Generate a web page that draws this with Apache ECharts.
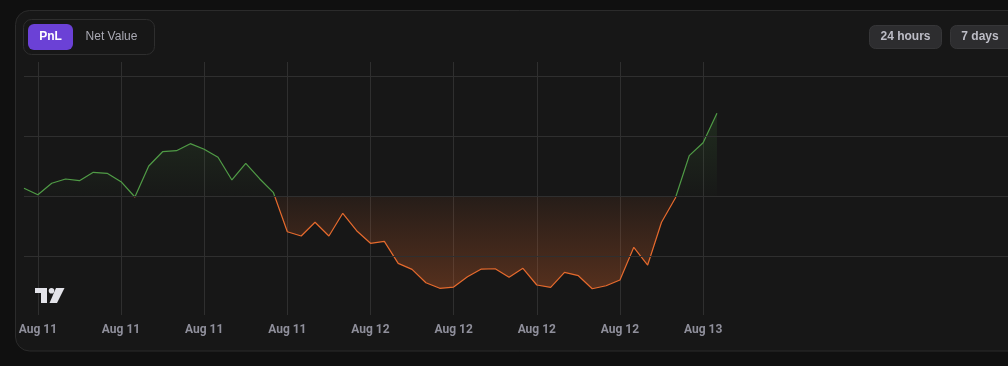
<!DOCTYPE html>
<html>
<head>
<meta charset="utf-8">
<script src="https://cdn.jsdelivr.net/npm/echarts@6/dist/echarts.min.js"></script>
<style>
  html, body { margin: 0; padding: 0; background: #101010; }
  #chart { width: 1008px; height: 366px; }
</style>
</head>
<body>
<div id="chart"></div>
<script>
// ---- data ----
const pnlValues = [12.8, 2.2, 21.2, 28.3, 25.5, 39.5, 37.8, 23.8, -1.7, 50.0,
  73.8, 75.5, 87.2, 77.8, 64.5, 26.7, 54.5, 28.8, 5.5, -59.5,
  -66.7, -43.8, -66.7, -28.8, -57.8, -78.8, -75.5, -112.2, -122.2, -144.5,
  -153.8, -151.7, -134.5, -121.7, -121.2, -135.3, -120.5, -148.3, -152.2, -127.2,
  -132.8, -154.5, -149.5, -140.0, -85.5, -115.0, -43.8, -3.3, 67.2, 88.8,
  137.8];
const totalSlots = 72;          // hourly slots visible on the time scale
const startDay = 10, startHour = 23;
const categories = [];
for (let i = 0; i < totalSlots; i++) {
  const h = startHour + i;
  const day = startDay + Math.floor(h / 24);
  const hh = String(h % 24).padStart(2, '0');
  categories.push('Aug ' + day + ' ' + hh + ':00');
}
const yGridLines = [200, 100, 0, -100];
const toggleLabels = ['PnL', 'Net Value'];
const rangeLabels = ['24 hours', '7 days'];

// ---- styles ----
const GREEN = '#4f9b45';
const ORANGE = '#e5692c';
const maxV = Math.max(...pnlValues), minV = Math.min(...pnlValues);
const zeroFrac = maxV / (maxV - minV);

const chart = echarts.init(document.getElementById('chart'), null, { renderer: 'canvas' });
const font = '"Liberation Sans", Arial, sans-serif';
const tickShown = (idx) => idx < pnlValues.length && (idx - 1) % 6 === 0;

chart.setOption({
  animation: false,
  backgroundColor: '#101010',
  grid: { left: 24, right: 0, top: 62, bottom: 51 },
  xAxis: {
    type: 'category',
    data: categories,
    boundaryGap: false,
    axisLine: { show: false },
    axisTick: { show: false },
    axisLabel: {
      interval: tickShown,
      formatter: (v) => v.split(' ').slice(0, 2).join(' '),
      color: '#8f8f9b',
      fontFamily: 'Roboto, ' + font,
      fontSize: 12,
      fontWeight: 'bold',
      margin: 9
    },
    splitLine: { show: true, interval: tickShown, lineStyle: { color: '#2f2f2f', width: 1 } }
  },
  yAxis: {
    type: 'value',
    min: -198.3,
    max: 223.3,
    axisLine: { show: false },
    axisTick: { show: false },
    axisLabel: { show: false },
    splitLine: { show: false }
  },
  graphic: [
    { type: 'rect', z: -10, silent: true,
      shape: { x: 15.5, y: 10.5, width: 1020, height: 340.5, r: 14 },
      style: { fill: '#171717', stroke: '#2b2b2b', lineWidth: 1 } },
    // toggle box
    { type: 'rect', z: 10, shape: { x: 23.5, y: 19.5, width: 131, height: 35, r: 8 },
      style: { fill: '#171717', stroke: '#2e2e2e', lineWidth: 1 } },
    { type: 'rect', z: 11, shape: { x: 28, y: 24, width: 45, height: 26, r: 6 },
      style: { fill: '#6b41d6' } },
    { type: 'text', z: 12, x: 50.5, y: 37,
      style: { text: toggleLabels[0], fill: '#ffffff', font: 'bold 12px ' + font, align: 'center', verticalAlign: 'middle' } },
    { type: 'text', z: 12, x: 111.5, y: 37,
      style: { text: toggleLabels[1], fill: '#a9a9b3', font: '12px ' + font, align: 'center', verticalAlign: 'middle' } },
    // range buttons
    { type: 'rect', z: 10, shape: { x: 869.5, y: 25.5, width: 72, height: 23, r: 6 },
      style: { fill: '#2d2d2f', stroke: '#363638', lineWidth: 1 } },
    { type: 'text', z: 12, x: 905.5, y: 37,
      style: { text: rangeLabels[0], fill: '#bdbdc6', font: 'bold 12px ' + font, align: 'center', verticalAlign: 'middle' } },
    { type: 'rect', z: 10, shape: { x: 950.5, y: 25.5, width: 72, height: 23, r: 6 },
      style: { fill: '#2d2d2f', stroke: '#363638', lineWidth: 1 } },
    { type: 'text', z: 12, x: 980, y: 37,
      style: { text: rangeLabels[1], fill: '#bdbdc6', font: 'bold 12px ' + font, align: 'center', verticalAlign: 'middle' } },
    // TradingView logo
    { type: 'polygon', z: 12, shape: { points: [[35, 288], [47, 288], [47, 303], [41, 303], [41, 293], [35, 293]] },
      style: { fill: '#e3e3e9' } },
    { type: 'circle', z: 12, shape: { cx: 51.5, cy: 290.8, r: 2.8 }, style: { fill: '#e3e3e9' } },
    { type: 'polygon', z: 12, shape: { points: [[56, 288], [64.5, 288], [57, 303], [49.5, 303]] },
      style: { fill: '#e3e3e9' } }
  ],
  series: [{
    type: 'line',
    data: pnlValues,
    showSymbol: false,
    symbol: 'none',
    lineStyle: {
      width: 1.2,
      color: {
        type: 'linear', x: 0, y: 0, x2: 0, y2: 1,
        colorStops: [
          { offset: 0, color: GREEN },
          { offset: zeroFrac, color: GREEN },
          { offset: zeroFrac, color: ORANGE },
          { offset: 1, color: ORANGE }
        ]
      }
    },
    areaStyle: {
      opacity: 1,
      color: {
        type: 'linear', x: 0, y: 0, x2: 0, y2: 1,
        colorStops: [
          { offset: 0, color: 'rgba(79,155,69,0.16)' },
          { offset: zeroFrac, color: 'rgba(79,155,69,0.01)' },
          { offset: zeroFrac, color: 'rgba(229,105,44,0.07)' },
          { offset: 1, color: 'rgba(229,105,44,0.30)' }
        ]
      }
    },
    markLine: {
      silent: true,
      symbol: 'none',
      label: { show: false },
      lineStyle: { color: '#2f2f2f', type: 'solid', width: 1 },
      emphasis: { disabled: true },
      data: yGridLines.map(v => ({ yAxis: v }))
    }
  }]
});
</script>
</body>
</html>
